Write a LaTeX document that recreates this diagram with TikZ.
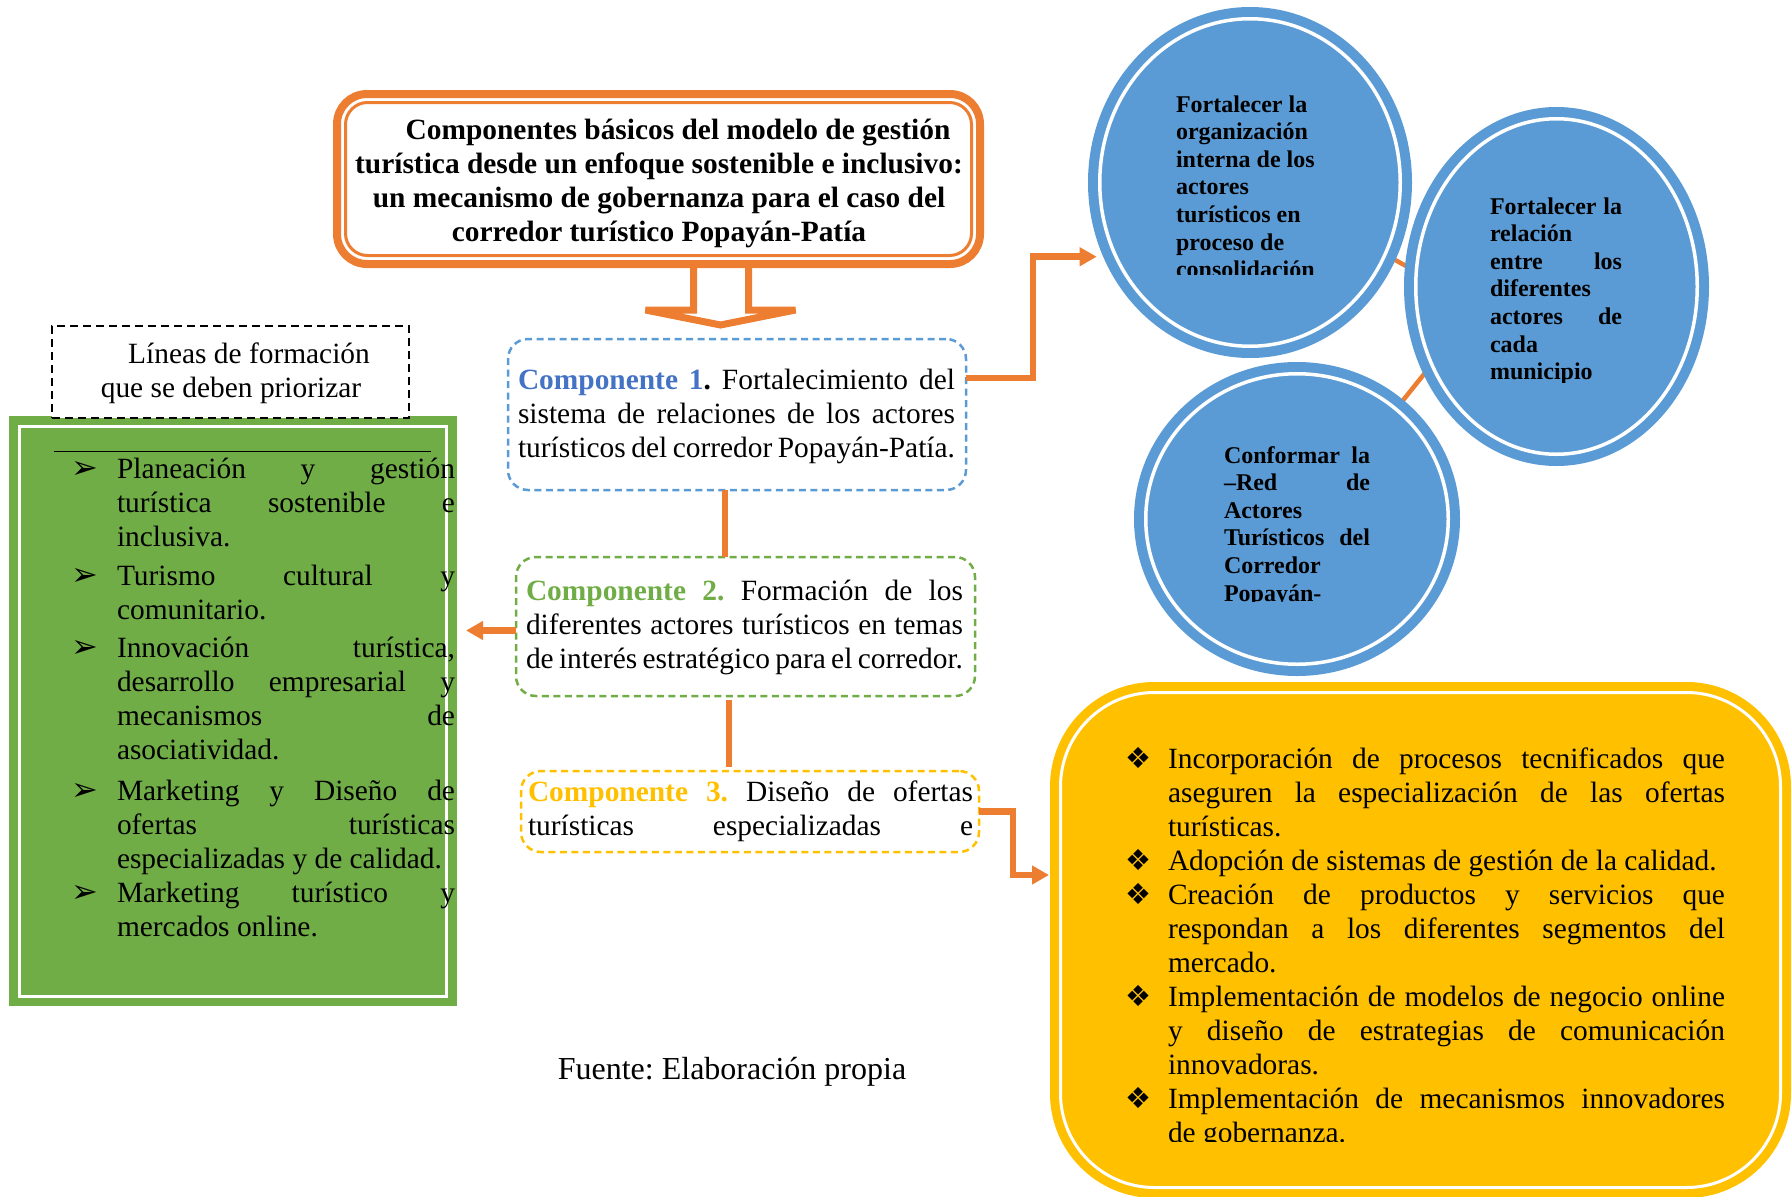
\documentclass[tikz,border=0pt]{standalone}
\usepackage{fontspec}
\setmainfont{Liberation Serif}
\newfontfamily\dejavu{DejaVu Sans}
\usetikzlibrary{arrows.meta,calc,shapes.geometric,backgrounds}
\definecolor{corange}{HTML}{ED7D31}
\definecolor{cblue}{HTML}{5B9BD5}
\definecolor{cdblue}{HTML}{4472C4}
\definecolor{cgreen}{HTML}{70AD47}
\definecolor{cyellow}{HTML}{FFC000}
\frenchspacing
\newcommand\bodyfont{\fontsize{29.4pt}{34pt}\selectfont}
\newcommand\circfont{\fontsize{24pt}{27.6pt}\selectfont\bfseries}
\newcommand\jline[1]{\makebox[\hsize][s]{#1}}
\newcommand\tbox[2]{\vtop{\hsize=#1\relax\parindent=0pt\parskip=0pt\leftskip=0pt\rightskip=0pt #2\par}}
\newcommand\bul[2]{\leavevmode\llap{\makebox[#1][l]{\smash{#2}}}}
\newcommand\arr{{\dejavu\fontsize{32pt}{32pt}\selectfont ➢}}
\newcommand\dia{{\dejavu\fontsize{29pt}{29pt}\selectfont ❖}}
\begin{document}
\begin{tikzpicture}[x=1pt,y=-1pt,
  conn/.style={draw=corange, line width=6.5pt},
  arrowend/.style={-{Triangle[length=17pt,width=18pt]}},
  txt/.style={inner sep=0pt, outer sep=0pt, anchor=base west},
  compbox/.style={draw, line width=2.5pt, dash pattern=on 7pt off 4.5pt, rounded corners=20pt, inner sep=0pt, outer sep=0pt},
  circ/.style={ellipse, fill=cblue, draw=cblue, line width=10pt, double=white, double distance=3.5pt, inner sep=0pt, outer sep=0pt},
]
\useasboundingbox (0,0) rectangle (1792,1197);

% ---------- title ----------
\node[draw=corange, line width=8pt, fill=white, rounded corners=30pt, minimum width=643pt, minimum height=170pt, inner sep=0pt, outer sep=0pt] (title) at (658.5,179) {};
\draw[corange, line width=3pt, rounded corners=22pt] ($(title.north west)+(8.5,8.5)$) rectangle ($(title.south east)+(-8.5,-8.5)$);
\node[inner sep=0pt, anchor=base] (titletext) at (659,139) {\tbox{640pt}{\centering\bfseries\bodyfont\hspace*{38pt}Componentes básicos del modelo de gestión\\turística desde un enfoque sostenible e inclusivo:\\un mecanismo de gobernanza para el caso del\\corredor turístico Popayán-Patía}};
% block arrow
\draw[corange, line width=7pt, shift={(title.south)}] (35,4) -- (35,46) -- (-13,46) -- (62,61) -- (137,46) -- (90,46) -- (90,4);

% ---------- components ----------
\node[compbox, draw=cblue, minimum width=458pt, minimum height=151pt] (c1) at (737,414.5) {};
\node[txt] (c1text) at (518,389) {\tbox{437pt}{\bodyfont\jline{\textbf{\textcolor{cdblue}{Componente 1}.} Fortalecimiento del}\\\jline{sistema de relaciones de los actores}\\turísticos del corredor Popayán-Patía.}};

\node[compbox, draw=cgreen, minimum width=459pt, minimum height=139pt] (c2) at (745.5,626.5) {};
\node[txt] (c2text) at (526,600) {\tbox{437pt}{\bodyfont\jline{\textbf{\textcolor{cgreen}{Componente 2.}} Formación de los}\\\jline{diferentes actores turísticos en temas}\\de interés estratégico para el corredor.}};

\node[compbox, draw=cyellow, minimum width=458pt, minimum height=81pt] (c3) at (750,811.5) {};
\node[txt] (c3text) at (528,801) {\tbox{445pt}{\bodyfont\jline{\textbf{\textcolor{cyellow}{Componente 3.}} Diseño de ofertas}\\\jline{turísticas especializadas e}}};

\draw[conn] (c1.south -| 725,0) -- (c2.north -| 725,0);
\draw[conn] ($(c2.south -| 729,0)+(0,4)$) -- ($(c3.north -| 729,0)+(0,-4)$);

% ---------- green box ----------
\node[fill=cgreen, minimum width=448pt, minimum height=590pt, inner sep=0pt, outer sep=0pt] (gbox) at (233,711) {};
\draw[white, line width=3pt] ($(gbox.north west)+(10.5,10.5)$) rectangle ($(gbox.south east)+(-10.5,-9.5)$);
\draw[black, line width=1pt] (54,451) -- (431,451);
\node[txt] (gtext) at (117,478) {\tbox{338pt}{\bodyfont
\bul{46pt}{\arr}\jline{Planeación y gestión}\\\jline{turística sostenible e}\\inclusiva.\\[5pt]
\bul{46pt}{\arr}\jline{Turismo cultural y}\\comunitario.\\[4pt]
\bul{46pt}{\arr}\jline{Innovación turística,}\\\jline{desarrollo empresarial y}\\\jline{mecanismos de}\\asociatividad.\\[7pt]
\bul{46pt}{\arr}\jline{Marketing y Diseño de}\\\jline{ofertas turísticas}\\especializadas y de calidad.\\
\bul{46pt}{\arr}\jline{Marketing turístico y}\\mercados online.}};

\node[draw=black, line width=2.5pt, dash pattern=on 8pt off 5pt, minimum width=357pt, minimum height=92pt, inner sep=0pt, outer sep=0pt, fill=white] (lbox) at (230.5,372) {};
\node[inner sep=0pt, anchor=base] (ltext) at (231,363) {\tbox{340pt}{\centering\bodyfont\hspace*{36pt}Líneas de formación\\que se deben priorizar}};

\draw[conn, arrowend, shorten >=9pt] (c2.181.1) -- (c2.181.1 -| gbox.east);

% ---------- circles ----------
\node[circ, minimum width=300.5pt, minimum height=327.5pt] (circ1) at (1250,182.5) {};
\node[circ, minimum width=281.5pt, minimum height=335.5pt] (circ2) at (1556.5,286.5) {};
\node[circ, minimum width=302.5pt, minimum height=290.5pt] (circ3) at (1297,519) {};
\begin{pgfonlayer}{background}
\draw[corange, line width=4.5pt] (circ1.-28.8) -- (circ2.174.7);
\draw[corange, line width=4.5pt] (circ2.212.8) -- (circ3.48.3);
\end{pgfonlayer}
\begin{scope}
\clip (1100,0) rectangle (1420,274);
\node[txt] (circ1text) at (1176,112) {\tbox{145pt}{\circfont Fortalecer la\\organización\\interna de los\\actores\\turísticos en\\proceso de\\consolidación}};
\end{scope}
\begin{scope}
\clip (1420,100) rectangle (1700,382);
\node[txt] (circ2text) at (1490,214) {\tbox{132pt}{\circfont\jline{Fortalecer la}\\relación\\\jline{entre los}\\diferentes\\\jline{actores de}\\cada\\municipio}};
\end{scope}
\begin{scope}
\clip (1150,380) rectangle (1450,601);
\node[txt] (circ3text) at (1224,463) {\tbox{146pt}{\circfont\jline{Conformar la}\\\jline{–Red de}\\Actores\\\jline{Turísticos del}\\Corredor\\Popayán-}};
\end{scope}
\draw[conn, arrowend, shorten >=19.4pt] (c1.9.2) -- ++(67,0) |- (circ1.209.1);

% ---------- yellow box ----------
\node[draw=cyellow, fill=cyellow, line width=9pt, rounded corners=100pt, minimum width=732pt, minimum height=507pt, inner sep=0pt, outer sep=0pt] (ybox) at (1420.5,940) {};
\draw[white, line width=3pt, rounded corners=94pt] ($(ybox.north west)+(6,6)$) rectangle ($(ybox.south east)+(-6,-6)$);
\begin{scope}
\clip (1100,700) rectangle (1780,1141);
\node[txt] (ytext) at (1168,768) {\tbox{557pt}{\bodyfont
\bul{43pt}{\dia}\jline{Incorporación de procesos tecnificados que}\\\jline{aseguren la especialización de las ofertas}\\turísticas.\\
\bul{43pt}{\dia}Adopción de sistemas de gestión de la calidad.\\
\bul{43pt}{\dia}\jline{Creación de productos y servicios que}\\\jline{respondan a los diferentes segmentos del}\\mercado.\\
\bul{43pt}{\dia}\jline{Implementación de modelos de negocio online}\\\jline{y diseño de estrategias de comunicación}\\innovadoras.\\
\bul{43pt}{\dia}\jline{Implementación de mecanismos innovadores}\\de gobernanza.}};
\end{scope}
\draw[conn, arrowend, shorten >=5.5pt] (c3.east) -- ++(34,0) |- ($(ybox.west)+(0,-65)$);

% ---------- source ----------
\node[inner sep=0pt, anchor=base] (fuente) at (732,1079) {\fontsize{32pt}{36pt}\selectfont Fuente: Elaboración propia};
\end{tikzpicture}
\end{document}
